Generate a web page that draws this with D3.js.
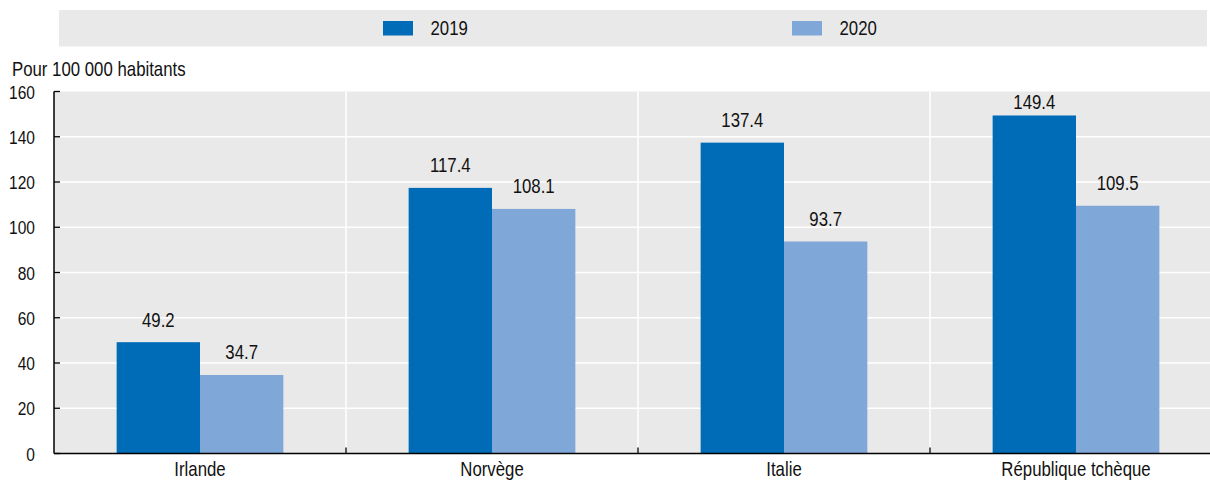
<!DOCTYPE html>
<html>
<head>
<meta charset="utf-8">
<script src="https://cdn.jsdelivr.net/npm/d3@7/dist/d3.min.js"></script>
<style>
  html, body { margin: 0; padding: 0; background: #fff; }
  svg { display: block; font-family: "Liberation Sans", Arial, sans-serif; }
</style>
</head>
<body>
<svg id="chart" width="1210" height="480"></svg>
<script>
const categories = ["Irlande", "Norvège", "Italie", "République tchèque"];
const seriesNames = ["2019", "2020"];
const values2019 = [49.2, 117.4, 137.4, 149.4];
const values2020 = [34.7, 108.1, 93.7, 109.5];
const yTicks = [0, 20, 40, 60, 80, 100, 120, 140, 160];
const unitLabel = "Pour 100 000 habitants";
const colors = ["#006BB6", "#7FA8D9"];

(function () {
const SX = 0.84; // horizontal condensation of the narrow font
const svg = d3.select("#chart");
const pLeft = 54, pRight = 1222, pTop = 91.5, pBottom = 453.5;

function narrowText(parent, x, y, str, size, anchor) {
  return parent.append("text")
    .attr("transform", `translate(${x},${y}) scale(${SX},1)`)
    .attr("text-anchor", anchor || "start")
    .attr("font-size", size).attr("fill", "#111").text(str);
}

const y = d3.scaleLinear().domain([0, 160]).range([pBottom, pTop]);
const x0 = d3.scaleBand().domain(categories).range([pLeft, pRight])
  .paddingInner(0.429).paddingOuter(0.2145);
const x1 = d3.scaleBand().domain(seriesNames).range([0, x0.bandwidth()]);
const step = x0.step();

// legend
svg.append("rect").attr("x", 59).attr("y", 10).attr("width", 1148).attr("height", 36.5).attr("fill", "#E9E9E9");
const legX = [383, 792];
seriesNames.forEach((s, i) => {
  svg.append("rect").attr("x", legX[i]).attr("y", 21).attr("width", 30).attr("height", 14.5).attr("fill", colors[i]);
  narrowText(svg, legX[i] + 47.5, 35.3, s, 20);
});

// unit label
narrowText(svg, 12, 75.7, unitLabel, 20);

// plot background
svg.append("rect").attr("x", pLeft).attr("y", pTop).attr("width", pRight - pLeft).attr("height", pBottom - pTop).attr("fill", "#E9E9E9");

// horizontal gridlines
svg.append("g").selectAll("line").data(yTicks.filter(d => d > 0 && d < 160)).join("line")
  .attr("x1", pLeft).attr("x2", pRight).attr("y1", d => y(d)).attr("y2", d => y(d))
  .attr("stroke", "#fff").attr("stroke-width", 1.5);

// vertical gridlines at category boundaries
const boundaries = categories.slice(1).map(c => x0(c) - x0.paddingInner() * step / 2);
svg.append("g").selectAll("line").data(boundaries).join("line")
  .attr("x1", d => d).attr("x2", d => d).attr("y1", pTop).attr("y2", pBottom)
  .attr("stroke", "#fff").attr("stroke-width", 1.5);

// bars
const data = categories.map((c, i) => ({ c, vals: [values2019[i], values2020[i]] }));
const groups = svg.append("g").selectAll("g").data(data).join("g")
  .attr("transform", d => `translate(${x0(d.c)},0)`);
groups.selectAll("rect").data(d => d.vals.map((v, i) => ({ s: seriesNames[i], v, i }))).join("rect")
  .attr("x", d => x1(d.s)).attr("width", x1.bandwidth())
  .attr("y", d => y(d.v)).attr("height", d => pBottom - y(d.v))
  .attr("fill", d => colors[d.i]);
groups.each(function (d) {
  const g = d3.select(this);
  d.vals.forEach((v, i) => {
    narrowText(g, x1(seriesNames[i]) + x1.bandwidth() / 2,
      Math.max(y(v) - 15.6, pTop + 17.5), v.toFixed(1), 20, "middle");
  });
});

// y axis
const yAxis = d3.axisLeft(y).tickValues(yTicks).tickSize(0).tickPadding(19);
const gy = svg.append("g").attr("transform", `translate(${pLeft},0)`).call(yAxis);
gy.select(".domain").remove();
gy.selectAll("text").attr("font-size", 18.5).attr("fill", "#111")
  .attr("font-family", "Liberation Sans, Arial, sans-serif")
  .attr("x", -19 / SX).attr("dy", "0.36em").attr("transform", `scale(${SX},1)`);
svg.append("g").selectAll("line").data(yTicks).join("line")
  .attr("x1", pLeft).attr("x2", pLeft + 6).attr("y1", d => y(d)).attr("y2", d => y(d))
  .attr("stroke", "#000").attr("stroke-width", 1.3);
svg.append("line").attr("x1", pLeft).attr("x2", pLeft).attr("y1", pTop).attr("y2", pBottom)
  .attr("stroke", "#000").attr("stroke-width", 1.5);

// x axis
const xAxis = d3.axisBottom(x0).tickSize(0).tickPadding(0);
const gx = svg.append("g").attr("transform", `translate(0,${pBottom})`).call(xAxis);
gx.select(".domain").remove();
gx.selectAll("text").attr("font-size", 20).attr("fill", "#111")
  .attr("font-family", "Liberation Sans, Arial, sans-serif")
  .attr("y", 22.5).attr("dy", null).attr("transform", `scale(${SX},1)`);
svg.append("line").attr("x1", pLeft).attr("x2", pRight).attr("y1", pBottom).attr("y2", pBottom)
  .attr("stroke", "#000").attr("stroke-width", 1.5);
svg.append("g").selectAll("line").data(boundaries).join("line")
  .attr("x1", d => d).attr("x2", d => d).attr("y1", pBottom - 6).attr("y2", pBottom)
  .attr("stroke", "#000").attr("stroke-width", 1.3);
})();
</script>
</body>
</html>
